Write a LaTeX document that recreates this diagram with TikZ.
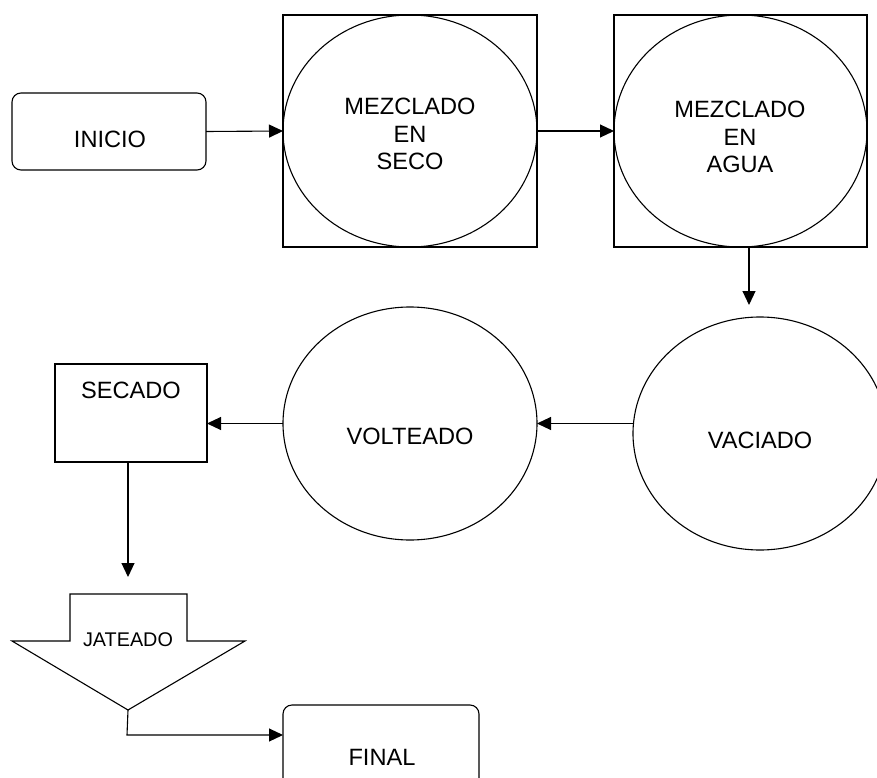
\documentclass[tikz,border=0pt]{standalone}
\usepackage{fontspec}
\setmainfont{Liberation Sans}
\usetikzlibrary{arrows.meta,shapes.geometric}
\begin{document}
\begin{tikzpicture}[x=1pt,y=-1pt,
  line width=1.1pt,
  every node/.style={inner sep=0pt,outer sep=0pt},
  txt/.style={font=\fontsize{23.6}{27.5}\selectfont,align=center},
  smalltxt/.style={font=\fontsize{19.8}{24}\selectfont},
  rbox/.style={draw,rectangle,rounded corners=9pt},
  sbox/.style={draw,rectangle},
  ell/.style={draw,ellipse},
  arr/.style={-{Triangle[length=14pt,width=13pt]}}]
\useasboundingbox (0,0) rectangle (877,778);
\clip (0,0) rectangle (877,778);
% nodes
\node[rbox,minimum width=194pt,minimum height=77pt] (ini) at (109,131.5) {};
\node[txt] (initxt) at (110,139) {INICIO};

\node[sbox,minimum width=254pt,minimum height=232pt] (b1) at (410,131) {};
\node[ell,minimum width=254pt,minimum height=232pt] (e1) at (410,131) {};
\node[txt] (t1) at (410,134) {MEZCLADO\\EN\\SECO};

\node[sbox,minimum width=253pt,minimum height=232pt] (b2) at (740.5,131) {};
\node[ell,minimum width=253pt,minimum height=232pt] (e2) at (740.5,131) {};
\node[txt] (t2) at (740,137) {MEZCLADO\\EN\\AGUA};

\node[ell,minimum width=254pt,minimum height=233pt] (vac) at (760,433.5) {};
\node[txt] (vactxt) at (760,440) {VACIADO};

\node[ell,minimum width=254pt,minimum height=233pt] (vol) at (410,423.5) {};
\node[txt] (voltxt) at (410,436) {VOLTEADO};

\node[sbox,minimum width=152pt,minimum height=98pt] (sec) at (131,413) {};
\node[txt] (sectxt) at (131,390) {SECADO};

\draw (70,594) -- (187,594) -- (187,641) -- (245,641) -- (128,710) -- (12,641) -- (70,641) -- cycle;
\node[smalltxt] (jat) at (128,640) {JATEADO};
\coordinate (jtip) at (128,710);
\coordinate (jlow) at (127,735);

\node[rbox,minimum width=196pt,minimum height=90pt] (fin) at (381,750) {};
\node[txt] (fintxt) at (382,757) {FINAL};

% connectors
\draw[arr] (ini.east) -- (b1.west);
\draw[arr] (b1.east) -- (b2.west);
\coordinate (d1) at (749,305);
\draw[arr] (b2.south -| d1) -- (d1);
\draw[arr] (vac.west |- vol.east) -- (vol.east);
\draw[arr] (vol.west) -- (vol.west -| sec.east);
\coordinate (d2) at (128,577);
\draw[arr] (sec.south -| d2) -- (d2);
\draw[arr] (jtip) -- (jlow) -- (jlow -| fin.west);
\end{tikzpicture}
\end{document}
